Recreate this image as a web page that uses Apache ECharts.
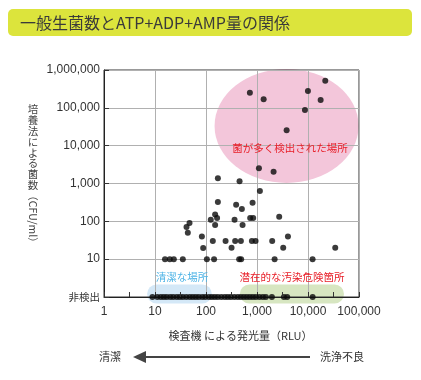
<!DOCTYPE html>
<html><head><meta charset="utf-8">
<script src="https://cdn.jsdelivr.net/npm/echarts@6/dist/echarts.min.js"></script>
<style>html,body{margin:0;padding:0;background:#fff}#c{width:421px;height:380px}</style>
</head><body><div id="c"></div>
<script>
// ---- data ----
const titleText = '一般生菌数とATP+ADP+AMP量の関係';
const xTickLabels = ['1', '10', '100', '1,000', '10,000', '100,000'];
const yTickLabels = ['非検出', '10', '100', '1,000', '10,000', '100,000', '1,000,000'];
const xMinorTicks = [3.162, 31.62, 316.2, 3162, 31623];

// detected points: x = RLU, y = CFU/ml
const detectedRLU = [725, 1350, 9970, 21800, 17700, 8710, 3810, 1090, 2115,
  171, 455, 1140, 171, 390, 819, 505, 151, 165, 124, 363, 735, 841, 2725,
  151, 521, 47.5, 41.5, 44, 83, 136, 242, 373, 483, 794, 938, 1986, 4040,
  88, 317, 3265, 34200,
  15.7, 19.5, 23.4, 35.1, 104, 144, 447, 489, 2214, 12300];
const detectedCFU = [252000, 169000, 279000, 523000, 162000, 88100, 25600, 2545, 2030,
  1386, 1154, 629, 322, 273, 309, 211, 152, 122, 110, 110, 122, 122, 132,
  80, 80, 90, 70.5, 49.8, 39.8, 30, 30, 30, 30, 30, 30, 30, 40,
  19.7, 20, 20, 20,
  10, 10, 10, 10, 10, 10, 10, 10, 10, 10];
// not detected (plotted on the 非検出 line)
const notDetectedRLU = [8.9, 11.1, 13.0, 14.9, 17.0, 19.9, 22.8, 26.7, 30.6, 35.1,
  41.1, 48.1, 55.1, 63.1, 72.3, 84.7, 97, 114, 130, 149, 171, 200, 234, 268,
  307, 360, 421, 483, 553, 633, 725, 830, 951, 1114, 1305, 1494, 1960,
  3370, 3910, 12330];
const NOT_DETECTED = 1;

// annotation regions (data coords)
const hotRegionCenter = [3800, 33300];
const cleanRange = [7, 130];
const riskRange = [461, 50800];

const chart = echarts.init(document.getElementById('c'), null, {renderer: 'canvas'});

const numFont = '"Liberation Sans", "Noto Sans CJK JP", sans-serif';
const jpFont = '"Noto Sans CJK JP", sans-serif';

const scatterData = detectedRLU.map((x, i) => [x, detectedCFU[i]])
  .concat(notDetectedRLU.map(x => [x, NOT_DETECTED]));

const option = {
  animation: false,
  backgroundColor: '#fff',
  grid: {left: 104, top: 70, width: 255, height: 227, show: true, borderColor: '#333', borderWidth: 1, backgroundColor: 'transparent'},
  xAxis: {
    type: 'log', logBase: 10, min: 1, max: 100000, position: 'bottom',
    axisLine: {show: true, lineStyle: {color: '#222', width: 1}},
    axisTick: {show: true, inside: true, length: 5, lineStyle: {color: '#333'}},
    splitLine: {show: true, lineStyle: {color: '#b0b0b0', width: 1}},
    axisLabel: {
      margin: 9, color: '#333', fontSize: 12, fontFamily: numFont,
      formatter: v => xTickLabels[Math.round(Math.log10(v))]
    }
  },
  yAxis: {
    type: 'log', logBase: 10, min: 1, max: 1000000, position: 'left',
    axisLine: {show: true, lineStyle: {color: '#222', width: 1}},
    axisTick: {show: true, inside: true, length: 5, lineStyle: {color: '#333'}},
    splitLine: {show: true, lineStyle: {color: '#b0b0b0', width: 1}},
    axisLabel: {
      margin: 4, color: '#333', fontSize: 12, fontFamily: numFont,
      formatter: v => {
        const k = Math.round(Math.log10(v));
        return k === 0 ? '{j|' + yTickLabels[0] + '}' : yTickLabels[k];
      },
      rich: {j: {fontSize: 10.5, fontFamily: jpFont, color: '#333'}}
    }
  },
  series: [
    {
      type: 'custom', z: -1, silent: true, clip: false,
      data: [hotRegionCenter],
      renderItem: (params, api) => {
        const p = api.coord([api.value(0), api.value(1)]);
        return {type: 'circle', x: p[0], y: p[1], scaleY: 57 / 72,
          shape: {cx: 0, cy: 0, r: 72}, style: {fill: '#f3c6da'}};
      }
    },
    {
      type: 'custom', z: -1, silent: true, clip: false,
      data: [[cleanRange[0], cleanRange[1], 0], [riskRange[0], riskRange[1], 1]],
      renderItem: (params, api) => {
        const a = api.coord([api.value(0), NOT_DETECTED]);
        const b = api.coord([api.value(1), NOT_DETECTED]);
        const fills = ['#d4e8f7', '#d7e6c1'];
        return {type: 'rect', shape: {x: a[0], y: a[1] - 12.5, width: b[0] - a[0], height: 19, r: 9.5},
          style: {fill: fills[api.value(2)]}};
      }
    },
    {
      type: 'custom', z: 4, silent: true, clip: false,
      data: xMinorTicks.map(v => [v]),
      renderItem: (params, api) => {
        const p = api.coord([api.value(0), NOT_DETECTED]);
        return {type: 'line', shape: {x1: p[0], y1: p[1], x2: p[0], y2: p[1] - 5},
          style: {stroke: '#333', lineWidth: 1}};
      }
    },
    {
      type: 'scatter', z: 3, clip: false,
      symbol: 'circle', symbolSize: 6,
      itemStyle: {color: '#0a0a0a'},
      data: scatterData
    }
  ],
  graphic: [
    {type: 'rect', shape: {x: 8, y: 9, width: 404, height: 27, r: 5}, style: {fill: '#dce43c'}},
    {type: 'text', x: 20, y: 23, style: {text: titleText, font: '16px "Noto Sans CJK JP"', fill: '#3a3a3a', verticalAlign: 'middle', align: 'left'}},
    // y axis name (vertical)
    {type: 'text', x: 33, y: 104, style: {text: '培\n養\n法\nに\nよ\nる\n菌\n数', font: '10.5px "Noto Sans CJK JP"', lineHeight: 10.8, fill: '#444', align: 'center', verticalAlign: 'top'}},
    {type: 'text', x: 33, y: 219, rotation: -Math.PI / 2, style: {text: '（CFU/ml）', font: '10.5px "Noto Sans CJK JP"', fill: '#444', align: 'center', verticalAlign: 'middle'}},
    // region labels
    {type: 'text', x: 290, y: 148, z: 5, style: {text: '菌が多く検出された場所', font: '10.5px "Noto Sans CJK JP"', fill: '#e8202a', align: 'center', verticalAlign: 'middle'}},
    {type: 'text', x: 182, y: 277, z: 5, style: {text: '清潔な場所', font: '10.5px "Noto Sans CJK JP"', fill: '#4fb4e6', align: 'center', verticalAlign: 'middle'}},
    {type: 'text', x: 292, y: 277, z: 5, style: {text: '潜在的な汚染危険箇所', font: '10.5px "Noto Sans CJK JP"', fill: '#e8202a', align: 'center', verticalAlign: 'middle'}},
    // x axis name
    {type: 'text', x: 240.5, y: 336, style: {text: '検査機 による発光量（RLU）', font: '11px "Noto Sans CJK JP"', fill: '#333', align: 'center', verticalAlign: 'middle'}},
    // arrow
    {type: 'line', shape: {x1: 144, y1: 357, x2: 310, y2: 357}, style: {stroke: '#444', lineWidth: 2}},
    {type: 'polygon', shape: {points: [[133, 357], [146, 351], [146, 363]]}, style: {fill: '#444'}},
    {type: 'text', x: 121, y: 357, style: {text: '清潔', font: '11px "Noto Sans CJK JP"', fill: '#333', align: 'right', verticalAlign: 'middle'}},
    {type: 'text', x: 320, y: 357, style: {text: '洗浄不良', font: '11px "Noto Sans CJK JP"', fill: '#333', align: 'left', verticalAlign: 'middle'}}
  ]
};
chart.setOption(option);
</script>
</body></html>
